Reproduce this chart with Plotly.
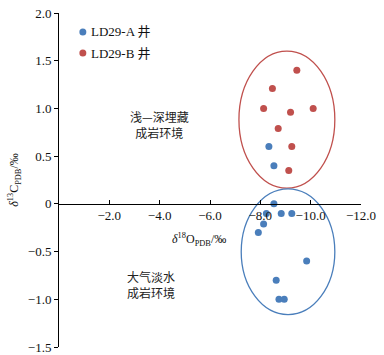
import plotly.graph_objects as go

# Data (δ18O, δ13C)
a_name = "LD29-A 井"
a_o18 = [-8.34, -8.54, -8.54, -8.24, -8.83, -9.25, -8.13, -7.92, -9.84, -8.63, -8.74, -8.95]
a_c13 = [0.60, 0.40, 0.00, -0.10, -0.10, -0.10, -0.21, -0.30, -0.60, -0.80, -1.00, -1.00]

b_name = "LD29-B 井"
b_o18 = [-9.45, -8.48, -8.13, -9.20, -10.10, -8.71, -9.25, -9.13]
b_c13 = [1.40, 1.21, 1.00, 0.96, 1.00, 0.79, 0.60, 0.35]

x_tickvals = [-2, -4, -6, -8, -10, -12]
x_ticktext = ["−2.0", "−4.0", "−6.0", "−8.0", "−10.0", "−12.0"]
y_tickvals = [2.0, 1.5, 1.0, 0.5, 0, -0.5, -1.0, -1.5]
y_ticktext = ["2.0", "1.5", "1.0", "0.5", "0", "−0.5", "−1.0", "−1.5"]

# Envelope ellipses (x0, x1, y0, y1) in data units
red_ellipse = (-7.15, -10.96, 0.165, 1.60)
blue_ellipse = (-7.24, -10.96, -1.16, 0.157)

label_upper = "浅—深埋藏<br>成岩环境"
label_lower = "大气淡水<br>成岩环境"

BLUE = "#4A7EBB"
RED = "#C0504D"
FONT = "Liberation Serif, Times New Roman, Noto Sans CJK SC, serif"

W, H = 384, 355
ML, MR, MT, MB = 59, 21, 13, 8
PW, PH = W - ML - MR, H - MT - MB

def px_to_paper(px, py):
    return (px - ML) / PW, 1 - (py - MT) / PH

fig = go.Figure()
fig.add_trace(go.Scatter(x=a_o18, y=a_c13, mode="markers", name=a_name,
                         marker=dict(color=BLUE, size=7, line=dict(width=0))))
fig.add_trace(go.Scatter(x=b_o18, y=b_c13, mode="markers", name=b_name,
                         marker=dict(color=RED, size=7, line=dict(width=0))))

for (x0, x1, y0, y1), col in [(red_ellipse, RED), (blue_ellipse, BLUE)]:
    fig.add_shape(type="circle", xref="x", yref="y", x0=x0, x1=x1, y0=y0, y1=y1,
                  line=dict(color=col, width=1.3), layer="below")

# Manual legend (compact symbol-text spacing as in the reference)
for name, col, py in [(a_name, BLUE, 32), (b_name, RED, 53)]:
    cx, cy = px_to_paper(83, py)
    rx, ry = 3.5 / PW, 3.5 / PH
    fig.add_shape(type="circle", xref="paper", yref="paper",
                  x0=cx - rx, x1=cx + rx, y0=cy - ry, y1=cy + ry,
                  fillcolor=col, line=dict(width=0))
    tx, _ = px_to_paper(89, py)
    fig.add_annotation(x=tx, y=cy, xref="paper", yref="paper", text=name,
                       showarrow=False, xanchor="left", yanchor="middle",
                       font=dict(family=FONT, size=13, color="#111"))

fig.add_annotation(x=-3.99, y=0.83, xref="x", yref="y", text=label_upper, showarrow=False,
                   font=dict(family="Noto Sans CJK SC", size=12, color="#222"))
fig.add_annotation(x=-3.67, y=-0.85, xref="x", yref="y", text=label_lower, showarrow=False,
                   font=dict(family="Noto Sans CJK SC", size=12, color="#222"))
fig.add_annotation(x=-5.57, y=-0.377, xref="x", yref="y",
                   text="<i>δ</i><sup>18</sup>O<sub>PDB</sub>/‰", showarrow=False,
                   font=dict(family=FONT, size=12, color="#111"))

fig.update_layout(
    width=W, height=H,
    margin=dict(l=ML, r=MR, t=MT, b=MB),
    paper_bgcolor="white", plot_bgcolor="white",
    font=dict(family=FONT, size=13, color="#111"),
    showlegend=False,
    xaxis=dict(range=[0, -12], anchor="free", position=1.5/3.5,
               tickvals=x_tickvals, ticktext=x_ticktext,
               ticks="inside", ticklen=4, tickcolor="black",
               showline=True, linecolor="black", linewidth=1,
               showgrid=False, zeroline=False,
               tickfont=dict(family=FONT, size=13)),
    yaxis=dict(range=[-1.5, 2.0], tickvals=y_tickvals, ticktext=y_ticktext,
               ticks="outside", ticklen=4, tickcolor="black",
               showline=True, linecolor="black", linewidth=1,
               showgrid=False, zeroline=False,
               tickfont=dict(family=FONT, size=13),
               title=dict(text="<i>δ</i><sup>13</sup>C<sub>PDB</sub>/‰",
                          font=dict(family=FONT, size=12), standoff=6),
               automargin=False),
)

fig.write_html("out.html", config={"displayModeBar": False},
               post_script="document.body.style.margin='0';document.body.style.overflow='hidden';")
